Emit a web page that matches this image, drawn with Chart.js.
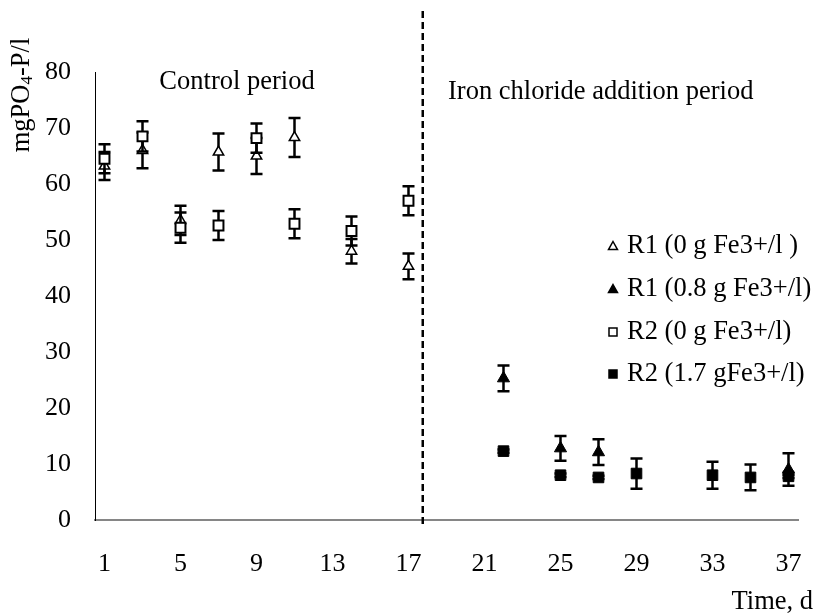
<!DOCTYPE html>
<html>
<head>
<meta charset="utf-8">
<script src="https://cdn.jsdelivr.net/npm/chart.js@4.4.1/dist/chart.umd.min.js"></script>
<style>
html, body { margin: 0; padding: 0; background: #fff; }
</style>
</head>
<body>
<canvas id="myChart" width="814" height="616"></canvas>
<script>
// control period (no iron)
const daysControl = [1, 3, 5, 7, 9, 11, 14, 17];
const r1Control = [63.2, 66.0, 53.5, 65.7, 65.0, 68.3, 48.0, 45.3];
const r1ControlErr = [2.5, 3.2, 2.6, 3.3, 3.2, 3.5, 2.2, 2.3];
const r2Control = [64.5, 68.5, 52.2, 52.6, 68.2, 52.9, 51.6, 57.0];
const r2ControlErr = [2.6, 2.7, 2.7, 2.6, 2.6, 2.6, 2.6, 2.6];

// iron chloride period
const daysR1Iron = [22, 25, 27, 37];
const r1Iron = [25.3, 12.8, 12.1, 9.0];
const r1IronErr = [2.3, 2.2, 2.3, 2.9];
const daysR2Iron = [22, 25, 27, 29, 33, 35, 37];
const r2Iron = [12.3, 8.0, 7.6, 8.3, 8.0, 7.6, 7.8];
const r2IronErr = [0.3, 0.3, 0.3, 2.7, 2.4, 2.3, 0.3];

const xTicks = [1, 5, 9, 13, 17, 21, 25, 29, 33, 37];
const ironStartDay = 17.75;
const seriesNames = ['R1 (0 g Fe3+/l )', 'R1 (0.8 g Fe3+/l)', 'R2 (0 g Fe3+/l)', 'R2 (1.7 gFe3+/l)'];

const FONT = "'Liberation Serif', 'Times New Roman', serif";
const TXT = '26.5px ' + FONT;

function toPoints(xs, ys) {
    return xs.map((x, i) => ({ x: x, y: ys[i] }));
}

// error bars go under the markers of each series
const errorBars = {
    id: 'errorBars',
    beforeDatasetDraw(chart, args) {
        const ds = chart.data.datasets[args.index];
        if (!ds.errors) return;
        const sx = chart.scales.x, sy = chart.scales.y;
        const ctx = chart.ctx;
        ctx.save();
        ctx.strokeStyle = '#000';
        ctx.lineWidth = 2.5;
        ds.data.forEach((p, i) => {
            const e = ds.errors[i];
            if (!e) return;
            const px = sx.getPixelForValue(p.x);
            const top = sy.getPixelForValue(p.y + e);
            const bot = sy.getPixelForValue(p.y - e);
            ctx.beginPath();
            ctx.moveTo(px, top); ctx.lineTo(px, bot);
            ctx.moveTo(px - 6, top); ctx.lineTo(px + 6, top);
            ctx.moveTo(px - 6, bot); ctx.lineTo(px + 6, bot);
            ctx.stroke();
        });
        ctx.restore();
    }
};

function marker(ctx, kind, filled, x, y, s) {
    ctx.beginPath();
    if (kind === 'triangle') {
        ctx.moveTo(x, y - s);
        ctx.lineTo(x + s, y + s * 0.8);
        ctx.lineTo(x - s, y + s * 0.8);
        ctx.closePath();
    } else {
        ctx.rect(x - s, y - s, 2 * s, 2 * s);
    }
    ctx.fillStyle = filled ? '#000' : '#fff';
    ctx.fill();
    ctx.lineWidth = 1.5;
    ctx.strokeStyle = '#000';
    ctx.stroke();
}

const textsPlugin = {
    id: 'texts',
    afterDraw(chart) {
        const ctx = chart.ctx;
        ctx.save();
        ctx.fillStyle = '#000';
        ctx.font = TXT;
        ctx.textBaseline = 'middle';

        ctx.textAlign = 'center';
        ctx.fillText('Control period', 237, 82);
        ctx.textAlign = 'left';
        ctx.fillText('Iron chloride addition period', 448, 92);

        ctx.textAlign = 'right';
        ctx.fillText('Time, d', 813, 602);

        // legend
        const legY = [246, 289, 332, 374];
        const kinds = [['triangle', false], ['triangle', true], ['rect', false], ['rect', true]];
        ctx.textAlign = 'left';
        seriesNames.forEach((name, i) => {
            marker(ctx, kinds[i][0], kinds[i][1], 613, legY[i], kinds[i][0] === 'rect' ? 4 : 4.5);
            ctx.fillStyle = '#000';
            ctx.fillText(name, 627, legY[i]);
        });

        // y title with subscript
        ctx.translate(22, 95);
        ctx.rotate(-Math.PI / 2);
        const a = 'mgPO', b = '4', c = '-P/l';
        ctx.font = TXT;
        const wa = ctx.measureText(a).width, wc = ctx.measureText(c).width;
        ctx.font = '17px ' + FONT;
        const wb = ctx.measureText(b).width;
        let x0 = -(wa + wb + wc) / 2;
        ctx.textAlign = 'left';
        ctx.font = TXT;
        ctx.fillText(a, x0, 0);
        ctx.font = '17px ' + FONT;
        ctx.fillText(b, x0 + wa, 6);
        ctx.font = TXT;
        ctx.fillText(c, x0 + wa + wb, 0);
        ctx.restore();
    }
};

const ctx = document.getElementById('myChart').getContext('2d');
new Chart(ctx, {
    type: 'scatter',
    data: {
        datasets: [
            {
                label: 'iron start',
                type: 'line',
                data: [{ x: ironStartDay, y: -0.7 }, { x: ironStartDay, y: 91 }],
                borderColor: '#000',
                borderWidth: 2.5,
                borderDash: [7, 4],
                pointRadius: 0,
                showLine: true,
                clip: false,
                order: 5
            },
            {
                label: seriesNames[0],
                data: toPoints(daysControl, r1Control),
                errors: r1ControlErr,
                pointStyle: 'triangle',
                pointRadius: 6,
                backgroundColor: '#fff',
                borderColor: '#000',
                borderWidth: 1.5,
                order: 2
            },
            {
                label: seriesNames[1],
                data: toPoints(daysR1Iron, r1Iron),
                errors: r1IronErr,
                pointStyle: 'triangle',
                pointRadius: 7,
                backgroundColor: '#000',
                borderColor: '#000',
                borderWidth: 1,
                order: 2
            },
            {
                label: seriesNames[2],
                data: toPoints(daysControl, r2Control),
                errors: r2ControlErr,
                pointStyle: 'rect',
                pointRadius: 7,
                backgroundColor: '#fff',
                borderColor: '#000',
                borderWidth: 2,
                order: 1
            },
            {
                label: seriesNames[3],
                data: toPoints(daysR2Iron, r2Iron),
                errors: r2IronErr,
                pointStyle: 'rect',
                pointRadius: 7.5,
                backgroundColor: '#000',
                borderColor: '#000',
                borderWidth: 1,
                order: 1
            }
        ]
    },
    options: {
        responsive: false,
        animation: false,
        layout: { padding: { left: 0, right: 16, top: 72, bottom: 0 } },
        plugins: {
            legend: { display: false },
            tooltip: { enabled: false }
        },
        scales: {
            x: {
                type: 'linear',
                min: 0.5,
                max: 37.5,
                afterBuildTicks: (scale) => { scale.ticks = xTicks.map(v => ({ value: v })); },
                afterFit: (scale) => {
                    scale.height = 96;
                    scale.paddingLeft = 0;
                    scale.paddingRight = 0;
                },
                grid: { display: false, drawTicks: false },
                border: { display: true, color: '#868686', width: 2 },
                ticks: {
                    color: '#000',
                    padding: 29,
                    maxRotation: 0,
                    autoSkip: false,
                    font: { family: FONT, size: 26 }
                }
            },
            y: {
                min: 0,
                max: 80,
                afterFit: (scale) => { scale.width = 95; },
                grid: { display: false, drawTicks: false },
                border: { display: true, color: '#000', width: 1 },
                ticks: {
                    stepSize: 10,
                    color: '#000',
                    padding: 24,
                    font: { family: FONT, size: 26 }
                }
            }
        }
    },
    plugins: [errorBars, textsPlugin]
});
</script>
</body>
</html>
